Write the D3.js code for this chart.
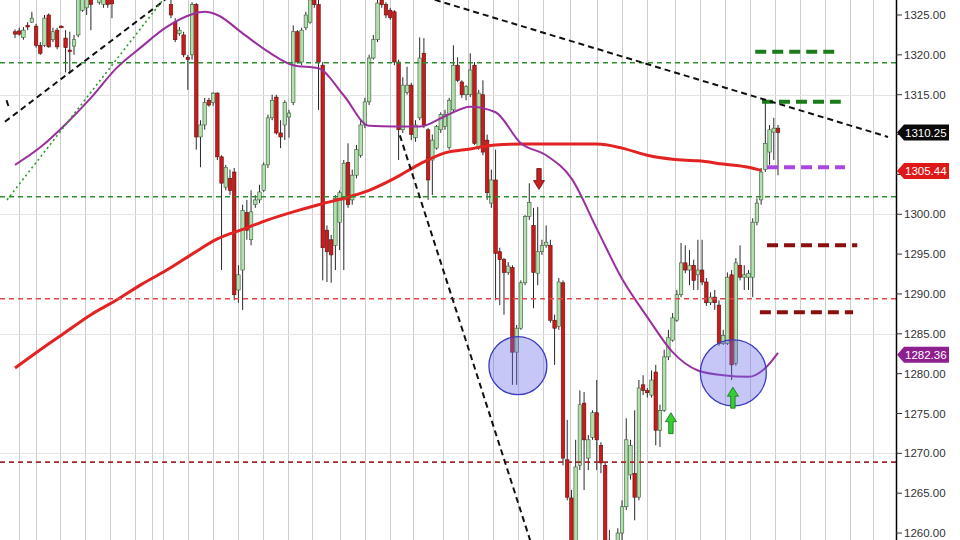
<!DOCTYPE html>
<html><head><meta charset="utf-8">
<script src="https://cdn.jsdelivr.net/npm/d3@7"></script>
<style>body{margin:0;background:#fff}svg{display:block}</style>
</head><body>
<svg id="c" width="960" height="540"></svg>
<script>
// ---------- DATA ----------
const opens = [1322.9,1323.0,1322.2,1323.7,1324.1,1323.6,1321.2,1321.2,1325.0,1321.9,1323.1,1323.6,1322.1,1320.6,1321.1,1322.5,1325.6,1325.9,1327.5,1328.8,1326.6,1326.3,1327.5,1327.3,1327.5,1329.4,1330.5,1329.5,1331.5,1332.5,1331.5,1333.5,1332.5,1331.0,1330.0,1329.0,1328.5,1326.3,1324.1,1322.7,1322.5,1319.7,1320.0,1326.3,1309.7,1311.2,1314.3,1314.0,1315.2,1307.2,1303.4,1304.5,1305.3,1290.5,1293.0,1300.2,1296.8,1301.2,1301.8,1303.0,1306.2,1312.1,1314.7,1310.2,1311.2,1312.2,1314.0,1322.9,1319.1,1323.4,1324.1,1327.3,1326.3,1318.7,1298.0,1296.8,1296.1,1299.0,1301.8,1306.5,1301.8,1304.9,1307.4,1311.2,1314.1,1319.6,1321.9,1326.9,1326.3,1325.6,1325.4,1319.1,1310.6,1315.3,1316.2,1309.6,1312.1,1320.2,1310.6,1306.8,1308.3,1310.6,1311.0,1308.4,1313.1,1318.7,1316.6,1315.0,1315.0,1318.7,1308.4,1315.0,1309.3,1301.4,1304.3,1295.3,1294.3,1292.7,1293.3,1282.7,1285.7,1291.4,1299.7,1298.6,1292.6,1295.3,1296.1,1296.1,1286.7,1285.9,1291.4,1269.2,1264.4,1258.5,1268.5,1276.3,1269.4,1272.0,1275.1,1271.0,1268.5,1259.1,1254.7,1256.6,1260.0,1263.3,1267.3,1267.5,1264.5,1278.6,1277.9,1277.3,1280.2,1272.9,1275.4,1282.1,1284.2,1286.7,1289.9,1293.9,1293.0,1293.6,1292.4,1293.0,1291.5,1288.9,1289.6,1288.6,1283.8,1283.8,1292.4,1281.3,1293.6,1292.1,1292.1,1292.1,1299.0,1301.8,1305.6,1307.8,1310.3,1310.8];
const highs = [1323.2,1323.4,1323.5,1324.1,1325.4,1323.9,1321.6,1325.0,1325.2,1323.4,1323.4,1323.7,1323.1,1322.9,1322.5,1327.9,1328.1,1328.8,1328.1,1329.4,1328.8,1328.1,1327.9,1327.9,1330.0,1331.0,1331.5,1332.0,1333.0,1333.5,1334.0,1334.5,1333.0,1332.0,1331.0,1330.0,1329.0,1326.9,1324.6,1323.5,1322.9,1320.0,1326.6,1326.5,1311.8,1314.6,1314.6,1315.3,1315.3,1307.4,1306.2,1305.6,1305.8,1293.6,1301.2,1301.8,1303.0,1302.4,1303.7,1306.5,1312.5,1315.0,1315.0,1311.8,1314.3,1313.1,1323.7,1323.1,1323.4,1325.4,1327.3,1327.9,1326.9,1319.1,1298.6,1297.4,1302.4,1303.0,1306.8,1308.9,1305.6,1308.7,1311.8,1314.6,1320.0,1322.5,1326.9,1327.5,1326.6,1325.9,1325.6,1319.4,1317.2,1318.5,1316.5,1311.8,1322.2,1322.1,1310.8,1310.0,1311.2,1312.8,1313.1,1314.6,1321.2,1319.7,1316.8,1316.2,1320.2,1319.1,1315.6,1316.8,1310.0,1305.6,1308.1,1295.8,1294.5,1294.0,1293.6,1286.1,1291.7,1299.9,1303.9,1300.8,1300.9,1296.8,1298.6,1296.8,1287.4,1292.0,1291.7,1274.2,1265.4,1271.7,1277.9,1277.7,1272.3,1275.4,1279.2,1271.4,1268.9,1260.4,1258.5,1260.6,1264.1,1274.4,1271.7,1275.4,1279.2,1279.8,1278.2,1280.4,1281.1,1276.1,1283.0,1285.5,1287.6,1290.5,1296.4,1296.1,1295.5,1294.3,1296.8,1296.8,1292.0,1290.2,1290.5,1289.2,1285.5,1292.7,1293.0,1294.5,1296.1,1293.6,1293.0,1299.5,1302.0,1305.8,1314.0,1311.2,1312.1,1311.2];
const lows = [1322.1,1322.4,1321.9,1323.1,1324.0,1320.9,1320.0,1321.0,1320.9,1321.6,1320.7,1323.4,1317.8,1317.7,1320.0,1322.2,1325.4,1325.0,1323.1,1326.9,1326.3,1325.9,1325.9,1324.6,1326.9,1328.5,1329.0,1329.0,1330.5,1331.0,1331.0,1332.0,1330.5,1329.5,1328.5,1327.8,1327.4,1324.6,1321.6,1322.4,1319.7,1315.6,1319.4,1308.1,1305.9,1310.6,1313.5,1313.6,1306.8,1293.0,1303.0,1302.4,1289.2,1288.9,1288.0,1296.8,1296.1,1300.8,1301.4,1302.8,1305.8,1311.8,1310.0,1308.3,1309.3,1309.6,1313.7,1318.9,1318.7,1323.1,1323.9,1325.9,1313.1,1291.7,1291.5,1291.4,1293.0,1295.5,1293.0,1300.8,1301.2,1304.5,1307.1,1310.8,1313.7,1319.4,1321.6,1325.9,1324.6,1324.4,1318.7,1306.8,1310.2,1315.0,1309.3,1309.1,1311.8,1310.8,1301.8,1302.4,1308.1,1310.2,1310.6,1308.1,1312.8,1316.6,1314.6,1314.3,1314.7,1308.7,1308.1,1307.4,1301.8,1300.8,1289.2,1288.6,1287.4,1292.4,1278.6,1278.6,1285.5,1291.1,1299.3,1288.2,1291.1,1294.9,1295.8,1286.4,1281.1,1285.5,1268.5,1264.1,1254.7,1257.2,1267.9,1265.4,1267.9,1271.7,1267.9,1267.5,1257.2,1254.1,1253.5,1256.0,1259.1,1262.9,1266.7,1261.6,1264.1,1277.3,1277.0,1277.0,1271.0,1270.8,1275.2,1281.7,1284.0,1286.5,1289.6,1292.6,1291.1,1290.5,1290.5,1291.1,1288.5,1288.6,1288.0,1283.5,1283.6,1283.6,1279.2,1281.0,1291.7,1290.5,1290.5,1289.6,1298.6,1301.2,1305.3,1306.2,1306.8,1304.9];
const closes = [1322.6,1322.6,1323.1,1323.5,1324.6,1321.2,1320.2,1324.6,1321.0,1322.9,1321.0,1323.4,1320.9,1320.4,1321.9,1327.5,1327.5,1328.1,1326.3,1327.5,1328.1,1327.5,1326.3,1326.4,1329.4,1330.5,1329.5,1331.5,1332.5,1331.5,1333.5,1332.5,1331.0,1330.0,1329.0,1328.5,1327.6,1325.0,1321.9,1323.1,1320.0,1319.4,1326.3,1309.7,1311.2,1314.0,1313.7,1315.2,1307.2,1303.9,1305.9,1303.0,1289.9,1292.4,1300.5,1298.0,1300.3,1301.8,1302.8,1306.2,1312.1,1314.3,1310.2,1309.7,1314.0,1312.7,1322.9,1319.1,1323.1,1325.0,1326.9,1326.3,1319.1,1295.8,1295.3,1294.9,1302.0,1302.7,1306.4,1301.2,1304.9,1308.1,1311.2,1314.1,1319.6,1321.9,1326.5,1326.3,1325.0,1324.7,1319.1,1310.6,1316.2,1316.2,1310.0,1311.2,1319.6,1311.2,1304.3,1309.3,1311.0,1312.5,1312.5,1314.3,1318.7,1316.8,1315.0,1316.0,1318.1,1308.9,1315.2,1307.8,1302.7,1304.3,1295.1,1294.3,1292.7,1293.5,1282.7,1285.7,1291.4,1299.7,1301.5,1292.7,1295.3,1296.1,1296.5,1286.7,1285.7,1291.5,1269.4,1264.5,1256.0,1268.3,1276.1,1271.7,1271.7,1275.1,1271.7,1268.8,1258.5,1255.3,1257.2,1260.0,1263.3,1271.7,1271.0,1264.5,1278.2,1277.9,1277.6,1279.2,1272.9,1275.4,1282.1,1284.5,1287.0,1289.9,1293.9,1293.0,1293.6,1291.7,1293.0,1291.5,1288.9,1289.6,1288.9,1283.8,1284.8,1292.1,1281.1,1293.9,1292.1,1292.4,1292.6,1299.0,1301.4,1305.3,1308.9,1310.6,1310.8,1310.25];

// moving averages, read at sample candle indices
const sma200Idx = [0,6,12,18,24,30,36,42,48,54,60,66,72,78,84,90,96,102,108,114,120,126,132,138,144,150,156,162,168,174,177];
const sma200 = [1280.7,1283.0,1285.2,1287.4,1289.2,1291.2,1293.0,1295.0,1296.9,1298.1,1299.3,1300.3,1301.2,1302.0,1303.0,1304.5,1306.3,1307.7,1308.2,1308.7,1308.8,1308.8,1308.8,1308.8,1308.3,1307.4,1306.9,1306.7,1306.3,1305.9,1305.5];
const sma50Idx = [0,6,12,18,24,30,36,42,45,48,54,60,66,72,78,84,90,96,102,108,114,120,126,132,138,144,150,156,162,168,174,178,181];
const sma50 = [1306.2,1308.4,1311.3,1314.6,1318.3,1321.0,1323.5,1325.1,1325.4,1325.0,1322.7,1320.4,1318.7,1318.3,1314.9,1311.1,1311.0,1311.0,1312.3,1313.5,1312.8,1308.9,1307.4,1304.5,1298.2,1291.9,1287.1,1282.7,1280.4,1279.8,1279.6,1280.7,1282.6];

const yTicks = [1260,1265,1270,1275,1280,1285,1290,1295,1300,1305,1310,1315,1320,1325];
const gridPrices = [1330,1315,1300,1285,1270,1255];
const gridIdx = [1,5,10.7,16.6,22.5,28.5,32.5,35.1,41,47,52.9,58.8,64.8,70.5,77.1,83,89,94.4,101.5,107.5,113.4,119.3,125.3,131.7,138,143.9,149.9,156.6,162.5,168.4,174.4,180.3,186.2,192.2,198.1,203.6];

// full-width horizontal levels
const levelPrices = [1319.0,1302.2,1289.4,1268.9];
// short target levels: price, start index, end index
const targetPrices = [1320.4,1314.1,1305.9,1296.1,1287.7];
const targetStart = [175.6,177.2,178.4,178.4,176.7];
const targetEnd = [195.7,195.9,196.9,199.8,198.8];

// trend lines: [index, price] pairs
const trendDown = [[99.6,1326.9],[207.1,1309.7]];
const trendSteep = [[91.3,1309.9],[122.2,1259.1]];
const trendUpLeft = [[-2.4,1311.6],[35.6,1326.9]];
const trendUpDotted = [[-1.9,1301.8],[35.1,1326.9]];
const tickMark = [[-2.0,1314.3],[-1.4,1313.3]];

// circled lows: index, price
const circleIdx = [119.3,170.4];
const circlePrice = [1281.0,1280.1];
// arrows: index, tip price, direction
const arrowIdx = [124.3,155.6,170.3];
const arrowTip = [1303.1,1275.1,1278.3];
const arrowDir = ["down","up","up"];

// price tags
const tagValues = [1310.25,1305.44,1282.36];

// ---------- DRAW ----------
const svg = d3.select("#c");
const W = 960, H = 540, axisX = 896;
const x = d3.scaleLinear().domain([0,181]).range([15,778]);
const y = d3.scaleLinear().domain([1260,1325]).range([533.05,15]);

svg.append("rect").attr("width",W).attr("height",H).attr("fill","#fff");
svg.append("defs").append("clipPath").attr("id","plot")
  .append("rect").attr("x",0).attr("y",0).attr("width",axisX).attr("height",H);
const g = svg.append("g").attr("clip-path","url(#plot)");

// grid
g.selectAll(".gx").data(gridIdx).join("line")
  .attr("x1",d=>Math.round(x(d))+0.5).attr("x2",d=>Math.round(x(d))+0.5)
  .attr("y1",0).attr("y2",H).attr("stroke","#cdcdcd").attr("stroke-width",1);
g.selectAll(".gy").data(gridPrices).join("line")
  .attr("x1",0).attr("x2",axisX)
  .attr("y1",d=>Math.round(y(d))+0.5).attr("y2",d=>Math.round(y(d))+0.5)
  .attr("stroke","#e3e3e3").attr("stroke-width",1);

// candles
const candles = opens.map((o,i)=>({i,o,h:highs[i],l:lows[i],c:closes[i]}));
const bw = 3.5;
const cg = g.append("g");
cg.selectAll(".wick").data(candles).join("line")
  .attr("x1",d=>x(d.i)).attr("x2",d=>x(d.i))
  .attr("y1",d=>y(d.h)).attr("y2",d=>y(d.l))
  .attr("stroke","#2a2a2a").attr("stroke-width",1);
cg.selectAll(".body").data(candles).join("rect")
  .attr("x",d=>x(d.i)-bw/2).attr("width",bw)
  .attr("y",d=>y(Math.max(d.o,d.c)))
  .attr("height",d=>Math.max(1,Math.abs(y(d.o)-y(d.c))))
  .attr("fill",d=>d.c>=d.o?"#b2e0ac":"#cc1a1a")
  .attr("stroke",d=>d.c>=d.o?"#3a5a3a":"#5a1010").attr("stroke-width",0.6);

// moving averages
const line = d3.line().x(d=>x(d[0])).y(d=>y(d[1])).curve(d3.curveMonotoneX);
g.append("path").datum(sma200Idx.map((k,j)=>[k,sma200[j]]))
  .attr("d",line).attr("fill","none").attr("stroke","#e32222").attr("stroke-width",3);
g.append("path").datum(sma50Idx.map((k,j)=>[k,sma50[j]]))
  .attr("d",line).attr("fill","none").attr("stroke","#9a2f9e").attr("stroke-width",2);

// full-width levels
const levelColors = ["#2f8f2f","#2f8f2f","#e04848","#a32a2a"];
g.selectAll(".lvl").data(levelPrices).join("line")
  .attr("x1",0).attr("x2",axisX)
  .attr("y1",d=>y(d)).attr("y2",d=>y(d))
  .attr("stroke",(d,i)=>levelColors[i]).attr("stroke-width",1.6)
  .attr("stroke-dasharray","5,4");

// target dashes
const targetColors = ["#1d7a1d","#1d7a1d","#a848e0","#8a0f0f","#8a0f0f"];
g.selectAll(".tgt").data(targetPrices).join("line")
  .attr("x1",(d,i)=>x(targetStart[i])).attr("x2",(d,i)=>x(targetEnd[i]))
  .attr("y1",d=>y(d)).attr("y2",d=>y(d))
  .attr("stroke",(d,i)=>targetColors[i]).attr("stroke-width",4)
  .attr("stroke-dasharray","11,6");

// trend lines
const seg = d3.line().x(d=>x(d[0])).y(d=>y(d[1]));
[trendDown,trendSteep,trendUpLeft,tickMark].forEach(t=>{
  g.append("path").datum(t).attr("d",seg).attr("fill","none")
   .attr("stroke","#111").attr("stroke-width",2).attr("stroke-dasharray","6,4");
});
g.append("path").datum(trendUpDotted).attr("d",seg).attr("fill","none")
  .attr("stroke","#2a9a2a").attr("stroke-width",1.6).attr("stroke-dasharray","2,3");

// circles
const circR = [29,33];
g.selectAll(".circ").data(circleIdx).join("circle")
  .attr("cx",d=>x(d)).attr("cy",(d,i)=>y(circlePrice[i])).attr("r",(d,i)=>circR[i])
  .attr("fill","rgba(105,105,235,0.38)").attr("stroke","#3c3cc0").attr("stroke-width",1.3);

// arrows
arrowIdx.forEach((k,i)=>{
  const cx = x(k), ty = y(arrowTip[i]);
  const s = arrowDir[i]==="down" ? -1 : 1;
  const p = [[cx,ty],[cx+5.5,ty+s*9],[cx+2.2,ty+s*9],[cx+2.2,ty+s*21],[cx-2.2,ty+s*21],[cx-2.2,ty+s*9],[cx-5.5,ty+s*9]];
  g.append("path").attr("d","M"+p.join("L")+"Z")
   .attr("fill",arrowDir[i]==="down"?"#c62020":"#33d033")
   .attr("stroke",arrowDir[i]==="down"?"#6a0c0c":"#1a6a1a").attr("stroke-width",0.8);
});

// axis
svg.append("line").attr("x1",axisX+0.5).attr("x2",axisX+0.5).attr("y1",0).attr("y2",H)
  .attr("stroke","#000").attr("stroke-width",1.5);
const fmt = d3.format(".2f");
const ax = svg.append("g");
ax.selectAll("line").data(yTicks).join("line")
  .attr("x1",axisX).attr("x2",axisX+6).attr("y1",d=>y(d)).attr("y2",d=>y(d))
  .attr("stroke","#333").attr("stroke-width",1);
// tick labels hidden beneath a price tag are not shown (as in the reference)
const shownTicks = yTicks.filter(t=>tagValues.every(v=>Math.abs(y(t)-y(v))>16));
ax.selectAll("text").data(shownTicks).join("text")
  .attr("x",axisX+8).attr("y",d=>y(d)).attr("dy","0.35em")
  .attr("font-family","Liberation Sans, Arial, sans-serif").attr("font-size",11.5)
  .attr("fill","#333").text(d=>fmt(d));

// price tags
const tagColors = ["#0a0a0a","#e01818","#8e1f8e"];
tagValues.forEach((v,i)=>{
  const ty = y(v);
  svg.append("path").attr("d",`M${axisX+1},${ty}L${axisX+8},${ty-8}L949,${ty-8}L949,${ty+8}L${axisX+8},${ty+8}Z`)
    .attr("fill",tagColors[i]);
  svg.append("text").attr("x",axisX+9).attr("y",ty).attr("dy","0.36em")
    .attr("font-family","Liberation Sans, Arial, sans-serif").attr("font-size",11.5)
    .attr("fill","#fff").text(fmt(v));
});
</script>
</body></html>
